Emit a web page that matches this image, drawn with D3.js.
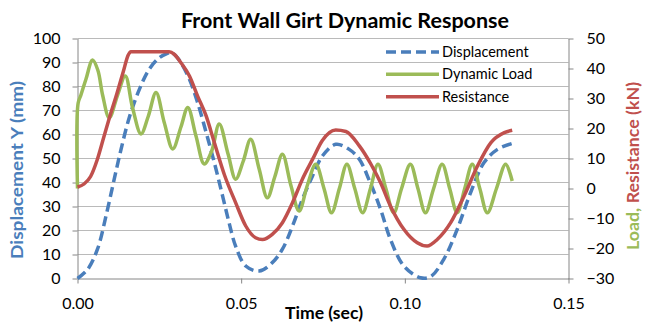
<!DOCTYPE html>
<html>
<head>
<meta charset="utf-8">
<script src="https://cdn.jsdelivr.net/npm/d3@7"></script>
<style>
  html, body { margin: 0; padding: 0; background: #fff; }
  svg { display: block; }
  text { font-family: Lato, "Open Sans", sans-serif; }
</style>
</head>
<body>
<svg id="chart" width="650" height="327"></svg>
<script>
// ---------- data (time in sec) ----------
const dispTime = [0, 0.0031, 0.0061, 0.0087, 0.0112, 0.0133, 0.0158, 0.0189, 0.0219, 0.0250, 0.0275, 0.0285, 0.0300, 0.0316, 0.0342, 0.0367, 0.0393, 0.0418, 0.0443, 0.0463, 0.0483, 0.0514, 0.0555, 0.0595, 0.0626, 0.0657, 0.0687, 0.0718, 0.0748, 0.0789, 0.0830, 0.0861, 0.0891, 0.0926, 0.0956, 0.0997, 0.1048, 0.1079, 0.1119, 0.1160, 0.1201, 0.1242, 0.1283, 0.1328];
const dispValues = [0, 3.8, 12.2, 26, 41.3, 53.8, 67, 78.8, 87.2, 92, 93.8, 94.2, 92.8, 89.9, 83, 73.3, 60.8, 48.3, 34.5, 23.3, 13.5, 5.2, 3.1, 6.6, 12.2, 21.9, 33, 42.7, 51, 55.9, 53.8, 49.7, 41, 28.8, 16.3, 5.2, 0.3, 0.8, 8, 20.5, 35.8, 48.3, 53.8, 56.3];

const loadTime = [0, 0.0002, 0.0010, 0.0026, 0.0046, 0.0062, 0.0077, 0.0097, 0.0122, 0.0146, 0.0168, 0.0194, 0.0216, 0.0240, 0.0265, 0.0291, 0.0316, 0.0337, 0.0362, 0.0387, 0.0410, 0.0433, 0.0460, 0.0483, 0.0506, 0.0529, 0.0555, 0.0580, 0.0603, 0.0626, 0.0652, 0.0677, 0.0702, 0.0728, 0.0753, 0.0776, 0.0800, 0.0823, 0.0847, 0.0871, 0.0895, 0.0918, 0.0942, 0.0966, 0.0990, 0.1017, 0.1040, 0.1063, 0.1088, 0.1114, 0.1137, 0.1160, 0.1183, 0.1206, 0.1229, 0.1252, 0.1280, 0.1308, 0.1328];
const loadValues = [0, 28.5, 31, 36.5, 42.8, 39.5, 31, 23.5, 31, 37.5, 27, 18.2, 24, 32, 22, 13.2, 20.5, 27, 17.5, 8.2, 12.5, 21.5, 11.5, 3.1, 9, 16.4, 6.5, -3.1, 4, 11.4, 1, -7.5, 1, 8.1, 0, -8.1, 0, 8.1, 0, -8.1, 0, 8.1, 0, -8.1, 0, 8.1, 0, -8.1, 0, 8.1, 0, -8.1, 0, 8.1, 0, -8.1, 0, 8.1, 2.5];

const resTime = [0, 0.0020, 0.0040, 0.0060, 0.0080, 0.0100, 0.0120, 0.0140, 0.0155, 0.0163, 0.0280, 0.0296, 0.0316, 0.0342, 0.0367, 0.0393, 0.0418, 0.0449, 0.0483, 0.0514, 0.0544, 0.0565, 0.0595, 0.0626, 0.0657, 0.0687, 0.0718, 0.0748, 0.0789, 0.0820, 0.0861, 0.0897, 0.0926, 0.0956, 0.0997, 0.1038, 0.1068, 0.1099, 0.1140, 0.1181, 0.1222, 0.1263, 0.1304, 0.1328];
const resValues = [0.5, 1.5, 4, 9.5, 17, 24.5, 31.5, 39, 44.5, 45.6, 45.6, 44.7, 41.9, 37.5, 30.8, 24.2, 15.3, 4.5, -4.7, -12.5, -16.4, -17, -15.3, -11.4, -4.7, 3.1, 9.7, 16, 19.5, 19, 14.2, 8, 1.9, -5.8, -13.6, -18.1, -19.2, -17, -11.4, -2.5, 7.5, 15.3, 18.6, 19.4];

const xTicks = [0, 0.05, 0.10, 0.15];
const leftTicks = [0, 10, 20, 30, 40, 50, 60, 70, 80, 90, 100];
const rightTicks = [-30, -20, -10, 0, 10, 20, 30, 40, 50];
const seriesNames = ["Displacement", "Dynamic Load", "Resistance"];

// ---------- layout ----------
const svg = d3.select("#chart");
const L = 77.5, R = 568.5, T = 38.5, B = 278.5;
const x = d3.scaleLinear().domain([0, 0.15]).range([L, R]);
const yL = d3.scaleLinear().domain([0, 100]).range([B, T]);
const yR = d3.scaleLinear().domain([-30, 50]).range([B, T]);

const cBlue = "#4a7ebb", cGreen = "#9bbb59", cRed = "#c0504d";
const gridC = "#bababa", axisC = "#868686";

// gridlines
svg.append("g").selectAll("line").data(leftTicks.filter(d => d > 0)).join("line")
  .attr("x1", L).attr("x2", R)
  .attr("y1", d => yL(d)).attr("y2", d => yL(d))
  .attr("stroke", gridC).attr("stroke-width", 1);

// axes
function styleAxis(g) {
  g.select(".domain").attr("stroke", axisC);
  g.selectAll(".tick line").attr("stroke", axisC);
  g.selectAll(".tick text").attr("fill", "#000").style("font-size", "16px")
    .style("font-family", "Lato, 'Open Sans', sans-serif");
}
svg.append("g").attr("transform", `translate(${L},0)`)
  .call(d3.axisLeft(yL).tickValues(leftTicks).tickFormat(d3.format("d")).tickSize(5).tickSizeOuter(0).tickPadding(12))
  .call(styleAxis);
svg.append("g").attr("transform", `translate(${R},0)`)
  .call(d3.axisRight(yR).tickValues(rightTicks).tickFormat(d3.format("d")).tickSize(5).tickSizeOuter(0).tickPadding(13))
  .call(styleAxis);
svg.append("g").attr("transform", `translate(0,${B})`)
  .call(d3.axisBottom(x).tickValues(xTicks).tickFormat(d3.format(".2f")).tickSize(5).tickSizeOuter(0).tickPadding(14))
  .call(styleAxis);

// series
const dispData = dispTime.map((t, i) => [t, dispValues[i]]);
const loadData = loadTime.map((t, i) => [t, loadValues[i]]);
const resData = resTime.map((t, i) => [t, resValues[i]]);

const lineL = d3.line().x(d => x(d[0])).y(d => yL(d[1])).curve(d3.curveCatmullRom.alpha(0.5));
const lineR = d3.line().x(d => x(d[0])).y(d => yR(d[1])).curve(d3.curveCatmullRom.alpha(0.5));
const lineRmono = d3.line().x(d => x(d[0])).y(d => yR(d[1])).curve(d3.curveMonotoneX);

svg.append("path").datum(dispData).attr("d", lineL)
  .attr("fill", "none").attr("stroke", cBlue).attr("stroke-width", 3.5)
  .attr("stroke-dasharray", "10,5");
svg.append("path").datum(loadData).attr("d", lineR)
  .attr("fill", "none").attr("stroke", cGreen).attr("stroke-width", 3.5).attr("stroke-linejoin", "round");
svg.append("path").datum(resData).attr("d", lineRmono)
  .attr("fill", "none").attr("stroke", cRed).attr("stroke-width", 3.5).attr("stroke-linejoin", "round");

// legend
const legY = [52, 74.3, 96.7];
const legColors = [cBlue, cGreen, cRed];
const leg = svg.append("g");
seriesNames.forEach((name, i) => {
  const ln = leg.append("line").attr("x1", 386).attr("x2", 439)
    .attr("y1", legY[i]).attr("y2", legY[i])
    .attr("stroke", legColors[i]).attr("stroke-width", 3.5);
  if (i === 0) ln.attr("stroke-dasharray", "10,5");
  leg.append("text").attr("x", 442).attr("y", legY[i]).attr("dy", "0.35em")
    .style("font-size", "14.5px").attr("fill", "#000").text(name);
});

// titles
svg.append("text").attr("x", 345).attr("y", 28).attr("text-anchor", "middle")
  .style("font-size", "21px").style("font-weight", "bold").attr("fill", "#000")
  .attr("textLength", 328).attr("lengthAdjust", "spacingAndGlyphs")
  .text("Front Wall Girt Dynamic Response");
svg.append("text").attr("x", 324).attr("y", 319).attr("text-anchor", "middle")
  .style("font-size", "17.5px").style("font-weight", "bold").attr("fill", "#000")
  .attr("textLength", 78).attr("lengthAdjust", "spacingAndGlyphs")
  .text("Time (sec)");
svg.append("text").attr("transform", "translate(23,170) rotate(-90)").attr("text-anchor", "middle")
  .style("font-size", "17.5px").style("font-weight", "bold").attr("fill", cBlue)
  .attr("textLength", 178).attr("lengthAdjust", "spacingAndGlyphs")
  .text("Displacement Y (mm)");
const rt = svg.append("text").attr("transform", "translate(638.5,166) rotate(-90)").attr("text-anchor", "middle")
  .style("font-size", "17.5px").style("font-weight", "bold")
  .attr("textLength", 168).attr("lengthAdjust", "spacingAndGlyphs");
rt.append("tspan").attr("fill", cGreen).text("Load, ");
rt.append("tspan").attr("fill", cRed).text("Resistance (kN)");
</script>
</body>
</html>
